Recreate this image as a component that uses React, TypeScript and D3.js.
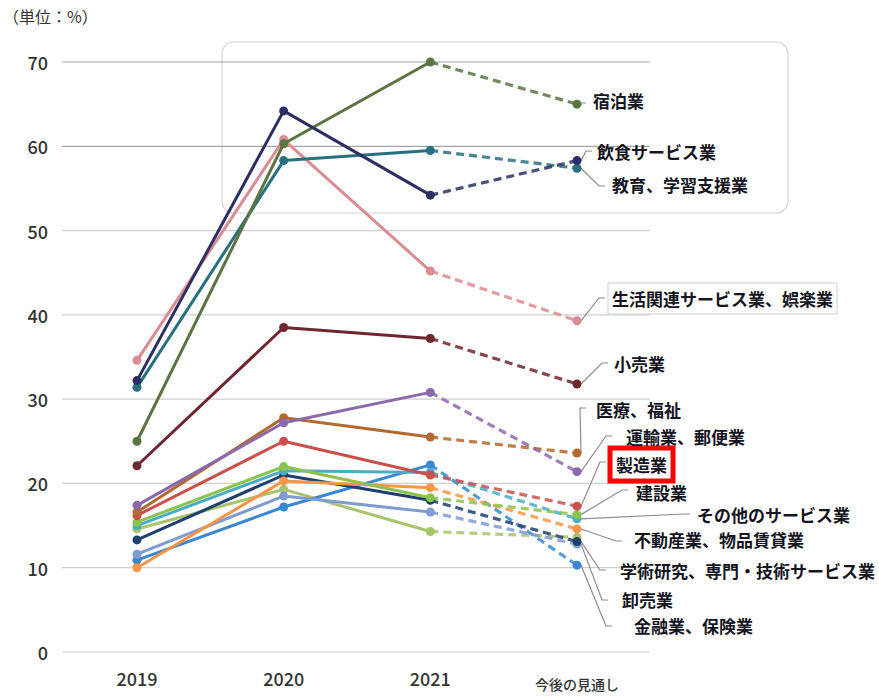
import { useEffect, useRef } from 'react';
import * as d3 from 'd3';

const categories = ['2019', '2020', '2021', '今後の見通し'];
const yTicks = [0, 10, 20, 30, 40, 50, 60, 70];

const seriesNames = [
  '情報通信業',
  '金融業、保険業',
  '卸売業',
  '学術研究、専門・技術サービス業',
  '不動産業、物品賃貸業',
  'その他のサービス業',
  '建設業',
  '製造業',
  '医療、福祉',
  '運輸業、郵便業',
  '小売業',
  '生活関連サービス業、娯楽業',
  '教育、学習支援業',
  '宿泊業',
  '飲食サービス業',
];

const seriesValues = [
  [14.6, 19.3, 14.3, 13.6],
  [10.9, 17.2, 22.2, 10.3],
  [11.6, 18.5, 16.6, 12.8],
  [13.3, 21.0, 18.0, 13.1],
  [10.0, 20.3, 19.5, 14.6],
  [15.0, 21.5, 21.3, 15.8],
  [15.4, 22.0, 18.3, 16.3],
  [16.2, 25.0, 21.0, 17.3],
  [16.6, 27.8, 25.5, 23.6],
  [17.4, 27.2, 30.8, 21.4],
  [22.1, 38.5, 37.2, 31.8],
  [34.6, 60.8, 45.2, 39.3],
  [31.4, 58.3, 59.5, 57.4],
  [25.0, 60.3, 70.0, 65.0],
  [32.2, 64.2, 54.2, 58.3],
];

const seriesColors = [
  '#a9c46c', '#3a86d0', '#7f9bd0', '#1f3f6e', '#f79646',
  '#4bacc6', '#8cc24e', '#c9504d', '#b4692e', '#8a6aaa',
  '#6e2630', '#d98c93', '#27707f', '#5c7342', '#2d2f63',
];

// label placement: [text x, text y, leader end x, leader end y], null = no label
const labelLayout: ([number, number, number, number] | null)[] = [
  null,
  [634, 633, 612, 626],
  [622, 607, 608, 600],
  [620, 578, 606, 570],
  [634, 547, 622, 541],
  [697, 522, 690, 514],
  [636, 500, 628, 490],
  [616, 472, 606, 462],
  [596, 417, 586, 408],
  [626, 444, 612, 436],
  [614, 371, 608, 363],
  [612, 306, 605, 298],
  [612, 192, 605, 186],
  [593, 108, 586, 103],
  [597, 159, 592, 151],
];

const W = 879;
const H = 698;

const Chart = () => {
  const ref = useRef<SVGSVGElement>(null);

  useEffect(() => {
    if (!ref.current) return;
    const svg = d3.select(ref.current);
    svg.selectAll('*').remove();

    const x = d3.scalePoint<string>().domain(categories).range([137, 577]);
    const y = d3.scaleLinear().domain([0, 70]).range([652, 62]);
    const font = '"Noto Sans CJK JP", "Noto Sans", sans-serif';

    // rounded box behind the top group
    svg.append('rect')
      .attr('x', 222).attr('y', 42).attr('width', 566).attr('height', 171)
      .attr('rx', 12).attr('fill', 'none').attr('stroke', '#d4d4d4').attr('stroke-width', 1.2);

    // grid
    svg.selectAll('.grid')
      .data(yTicks)
      .enter()
      .append('line')
      .attr('x1', 62).attr('x2', 650)
      .attr('y1', d => y(d)).attr('y2', d => y(d))
      .attr('stroke', (d) => (d >= 60 ? '#a6a6a6' : '#cfcfcf'))
      .attr('stroke-width', 1.2);

    svg.selectAll('.ytick')
      .data(yTicks)
      .enter()
      .append('text')
      .attr('x', 48).attr('y', d => y(d))
      .attr('text-anchor', 'end').attr('dominant-baseline', 'central')
      .attr('font-family', font).attr('font-size', 18).attr('font-weight', 500).attr('fill', '#333')
      .text(d => d);

    svg.selectAll('.xtick')
      .data(categories)
      .enter()
      .append('text')
      .attr('x', d => x(d)!)
      .attr('y', (d, i) => (i === 3 ? 690 : 686))
      .attr('text-anchor', 'middle')
      .attr('font-family', font)
      .attr('font-size', (d, i) => (i === 3 ? 14 : 18))
      .attr('font-weight', 500)
      .attr('fill', '#333')
      .text(d => d);

    svg.append('text')
      .attr('x', 3).attr('y', 23)
      .attr('font-family', font).attr('font-size', 16).attr('fill', '#333')
      .text('（単位：%）');

    const pts = (vals: number[]) => vals.map((v, i) => [x(categories[i])!, y(v)] as [number, number]);
    const line = d3.line();

    // leader lines
    seriesValues.forEach((vals, i) => {
      const lay = labelLayout[i];
      if (!lay) return;
      const px = x(categories[3])! + 4;
      const py = y(vals[3]);
      svg.append('path')
        .attr('d', `M${px},${py} L${lay[2] - 6},${lay[3]} L${lay[2]},${lay[3]}`)
        .attr('fill', 'none').attr('stroke', '#8c8c8c').attr('stroke-width', 1.2);
    });

    seriesValues.forEach((vals, i) => {
      const p = pts(vals);
      const c = seriesColors[i];
      svg.append('path')
        .attr('d', line(p.slice(0, 3)))
        .attr('fill', 'none').attr('stroke', c).attr('stroke-width', 3)
        .attr('stroke-linejoin', 'round');
      svg.append('path')
        .attr('d', line(p.slice(2)))
        .attr('fill', 'none').attr('stroke', c).attr('stroke-width', 3.2)
        .attr('stroke-dasharray', '8,5').attr('opacity', 0.85);
      svg.selectAll(null)
        .data(p)
        .enter()
        .append('circle')
        .attr('cx', d => d[0]).attr('cy', d => d[1])
        .attr('r', 4.5).attr('fill', c);
    });

    // labels
    seriesNames.forEach((name, i) => {
      const lay = labelLayout[i];
      if (!lay) return;
      const t = svg.append('text')
        .attr('x', lay[0]).attr('y', lay[1])
        .attr('font-family', font).attr('font-size', 17).attr('font-weight', 'bold')
        .attr('fill', '#15151f')
        .text(name);
      if (name === '生活関連サービス業、娯楽業') {
        const b = (t.node() as SVGTextElement).getBBox();
        svg.insert('rect', 'text')
          .attr('x', b.x - 4).attr('y', b.y - 3).attr('width', b.width + 8).attr('height', b.height + 6)
          .attr('fill', 'none').attr('stroke', '#c9d0da').attr('stroke-width', 1);
      }
      if (name === '製造業') {
        const b = (t.node() as SVGTextElement).getBBox();
        svg.append('rect')
          .attr('x', b.x - 6).attr('y', b.y - 4).attr('width', b.width + 12).attr('height', b.height + 8)
          .attr('fill', 'none').attr('stroke', '#ff0000').attr('stroke-width', 5);
      }
    });
  }, []);

  return (
    <svg ref={ref} width={W} height={H} style={{ position: 'absolute', left: 0, top: 0, background: '#fff' }} />
  );
};

const App = () => <Chart />;

export default App;
